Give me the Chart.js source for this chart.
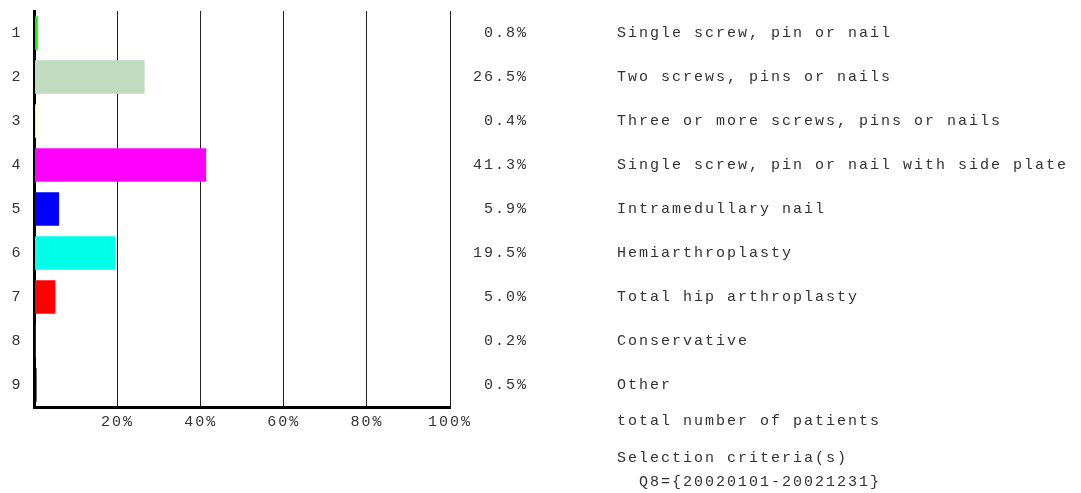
<!DOCTYPE html>
<html>
<head>
<meta charset="utf-8">
<script src="https://cdn.jsdelivr.net/npm/chart.js@4/dist/chart.umd.min.js"></script>
<style>
  html, body { margin: 0; padding: 0; background: #fff; }
  canvas { display: block; }
</style>
</head>
<body>
<canvas id="chart" width="1081" height="493"></canvas>
<script>
// values
const categories = ['1', '2', '3', '4', '5', '6', '7', '8', '9'];
const percents   = [0.8, 26.5, 0.4, 41.3, 5.9, 19.5, 5.0, 0.2, 0.5];
const descriptions = [
    'Single screw, pin or nail',
    'Two screws, pins or nails',
    'Three or more screws, pins or nails',
    'Single screw, pin or nail with side plate',
    'Intramedullary nail',
    'Hemiarthroplasty',
    'Total hip arthroplasty',
    'Conservative',
    'Other'
];
const barColors = ['#00ff00', '#c0dcc0', '#ffff00', '#ff00ff', '#0000ff', '#00ffe8', '#ff0000', '#708090', '#000000'];
const xTicks = [0, 20, 40, 60, 80, 100];
const footerLines = ['total number of patients', 'Selection criteria(s)', '  Q8={20020101-20021231}'];

const FONT = '"Liberation Mono", "Courier New", monospace';
const TEXT = '#333';
const SPACING = '2px';

// letter spacing is reset whenever the canvas is sized, so put it back before each draw
const spacingPlugin = {
    id: 'spacing',
    beforeDraw(chart) { chart.ctx.letterSpacing = SPACING; }
};

// percentage column, descriptions and the footer text on the right
const sideText = {
    id: 'sideText',
    afterDraw(chart) {
        const ctx = chart.ctx;
        const y = chart.scales.y;
        ctx.save();
        ctx.letterSpacing = SPACING;
        ctx.font = '15px ' + FONT;
        ctx.fillStyle = TEXT;
        ctx.textBaseline = 'middle';
        percents.forEach((p, i) => {
            const py = y.getPixelForValue(i);
            ctx.textAlign = 'right';
            ctx.fillText(p.toFixed(1) + '%', 528, py);
            ctx.textAlign = 'left';
            ctx.fillText(descriptions[i], 617, py);
        });
        ctx.textAlign = 'left';
        const footY = [421, 458, 482];
        footerLines.forEach((t, i) => ctx.fillText(t, 617, footY[i]));
        ctx.restore();
    }
};

new Chart(document.getElementById('chart'), {
    type: 'bar',
    data: {
        labels: categories,
        datasets: [{
            data: percents,
            backgroundColor: barColors,
            borderWidth: 0,
            barPercentage: 0.76,
            categoryPercentage: 1
        }]
    },
    options: {
        indexAxis: 'y',
        responsive: false,
        animation: false,
        devicePixelRatio: 1,
        layout: { padding: { top: 11, right: 631, left: 0, bottom: 0 } },
        plugins: { legend: { display: false }, tooltip: { enabled: false } },
        scales: {
            x: {
                min: 0,
                max: 100,
                afterBuildTicks: s => { s.ticks = xTicks.map(v => ({ value: v })); },
                afterFit: s => { s.height = 86; },
                ticks: {
                    padding: 6,
                    color: TEXT,
                    font: { family: FONT, size: 15 },
                    maxRotation: 0,
                    callback: v => v === 0 ? '' : v + '%'
                },
                grid: { color: '#222', lineWidth: 1, drawTicks: false },
                border: { color: '#000', width: 3 }
            },
            y: {
                afterFit: s => { s.width = 34.5; s.paddingTop = 0; s.paddingBottom = 0; },
                ticks: {
                    padding: 12,
                    color: TEXT,
                    font: { family: FONT, size: 15 }
                },
                grid: { display: false, drawTicks: false },
                border: { color: '#000', width: 3 }
            }
        }
    },
    plugins: [spacingPlugin, sideText]
});
</script>
</body>
</html>
